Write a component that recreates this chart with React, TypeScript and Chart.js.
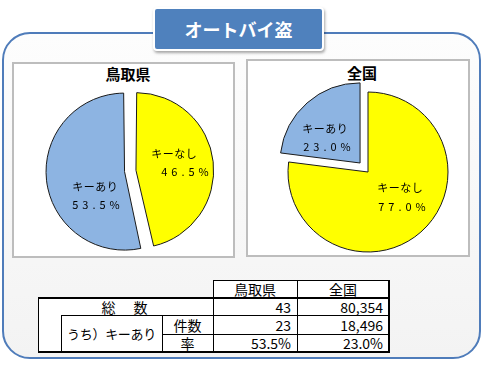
import React, { useEffect, useRef } from "react";
import { Chart, registerables } from "chart.js";

Chart.register(...registerables);

// ---- data ----
const categories = ["キーなし", "キーあり"];
const tottoriShares = [46.5, 53.5];
const nationalShares = [77.0, 23.0];
const pieTitles = ["鳥取県", "全国"];
const mainTitle = "オートバイ盗";
const tableColumns = ["鳥取県", "全国"];
const rowLabels = ["総　数", "うち）キーあり", "件数", "率"];
const totalCounts = ["43", "80,354"];
const keyCounts = ["23", "18,496"];
const keyRates = ["53.5%", "23.0%"];

const FONT = '"Noto Sans CJK JP", "Noto Sans", sans-serif';
const sliceColors = ["#ffff00", "#8db4e2"];

function drawSpaced(ctx: CanvasRenderingContext2D, text: string, cx: number, cy: number, ls: number) {
  (ctx as any).letterSpacing = "0px";
  const w0 = ctx.measureText(text).width;
  const total = w0 + ls * (text.length - 1);
  (ctx as any).letterSpacing = ls + "px";
  ctx.textAlign = "left";
  ctx.fillText(text, cx - total / 2, cy);
  (ctx as any).letterSpacing = "0px";
}

const sliceLabels = {
  id: "sliceLabels",
  afterDatasetsDraw(chart: any, _args: any, opts: any) {
    const ctx: CanvasRenderingContext2D = chart.ctx;
    const meta = chart.getDatasetMeta(0);
    const labels = chart.data.labels as string[];
    const data = chart.data.datasets[0].data as number[];
    meta.data.forEach((arc: any, i: number) => {
      const p = opts.positions[i];
      const cx = arc.x + p.dx;
      const cy = arc.y + p.dy;
      ctx.save();
      ctx.fillStyle = "#000";
      ctx.font = "11px " + FONT;
      ctx.textBaseline = "middle";
      drawSpaced(ctx, labels[i], cx, cy - 9.25, 0.5);
      drawSpaced(ctx, data[i].toFixed(1) + "%", cx + p.dx2, cy + 9.25, 4);
      ctx.restore();
    });
  },
};

function PieChart(props: {
  values: number[];
  radius: number;
  offsets: number[];
  positions: { dx: number; dy: number; dx2: number }[];
  left: number;
  top: number;
}) {
  const ref = useRef<HTMLCanvasElement>(null);
  const size = 200;
  useEffect(() => {
    const chart = new Chart(ref.current!, {
      type: "pie",
      data: {
        labels: categories,
        datasets: [
          {
            data: props.values,
            backgroundColor: sliceColors,
            borderColor: "#1a1a1a",
            borderWidth: 1,
            offset: props.offsets,
            radius: props.radius,
          } as any,
        ],
      },
      options: {
        animation: false,
        responsive: false,
        maintainAspectRatio: false,
        devicePixelRatio: 1,
        events: [],
        layout: { padding: 0 },
        plugins: {
          legend: { display: false },
          tooltip: { enabled: false },
          sliceLabels: { positions: props.positions },
        } as any,
      },
      plugins: [sliceLabels as any],
    });
    return () => chart.destroy();
  }, []);
  return (
    <canvas
      ref={ref}
      width={size}
      height={size}
      style={{ position: "absolute", left: props.left, top: props.top, width: size, height: size }}
    />
  );
}

function HLine({ x1, x2, y, w = 1 }: { x1: number; x2: number; y: number; w?: number }) {
  return <div style={{ position: "absolute", left: x1, top: y - w / 2, width: x2 - x1 + 1, height: w, background: "#000" }} />;
}
function VLine({ x, y1, y2, w = 1 }: { x: number; y1: number; y2: number; w?: number }) {
  return <div style={{ position: "absolute", left: x - w / 2, top: y1, width: w, height: y2 - y1 + 1, background: "#000" }} />;
}
function Cell(p: {
  x1: number; x2: number; y1: number; y2: number; text: string; align?: "center" | "right";
  size?: number; ls?: number;
}) {
  return (
    <div
      style={{
        position: "absolute",
        left: p.x1,
        top: p.y1,
        width: p.x2 - p.x1,
        height: p.y2 - p.y1,
        display: "flex",
        alignItems: "center",
        justifyContent: p.align === "right" ? "flex-end" : "center",
        paddingRight: p.align === "right" ? 6 : 0,
        boxSizing: "border-box",
        fontFamily: FONT,
        fontSize: p.size || 14,
        letterSpacing: p.ls || 0,
        color: "#000",
        lineHeight: 1,
        whiteSpace: "nowrap",
      }}
    >
      {p.text}
    </div>
  );
}

export default function App() {
  // table grid
  const X = [38, 61, 162, 213, 297, 389];
  const Y = [280, 298, 315, 334, 352];
  return (
    <div style={{ position: "absolute", left: 0, top: 0, width: 485, height: 365, background: "#fff", overflow: "hidden" }}>
      {/* outer frame */}
      <div
        style={{
          position: "absolute",
          left: 2,
          top: 32,
          width: 479,
          height: 327,
          boxSizing: "border-box",
          border: "2.5px solid #4f7cba",
          borderRadius: 28,
          background: "linear-gradient(#fdfdfd, #f3f3f3)",
        }}
      />
      {/* title box */}
      <div
        style={{
          position: "absolute",
          left: 153,
          top: 7,
          width: 171,
          height: 44,
          boxSizing: "border-box",
          background: "#4f81bd",
          border: "2px solid #fff",
          borderRadius: 4,
          boxShadow: "1px 2px 3px rgba(0,0,0,0.35)",
          color: "#fff",
          fontFamily: FONT,
          fontWeight: 700,
          fontSize: 18,
          display: "flex",
          alignItems: "center",
          justifyContent: "center",
          lineHeight: 1,
        }}
      >
        {mainTitle}
      </div>
      {/* panels */}
      <div style={{ position: "absolute", left: 12, top: 62, width: 223, height: 196, boxSizing: "border-box", background: "#fff", border: "2px solid #bdbdbd" }} />
      <div style={{ position: "absolute", left: 246, top: 59, width: 224, height: 198, boxSizing: "border-box", background: "#fff", border: "2px solid #bdbdbd" }} />
      <div style={{ position: "absolute", left: 68, top: 65, width: 120, height: 18, textAlign: "center", fontFamily: FONT, fontWeight: 700, fontSize: 15, lineHeight: "18px", color: "#000" }}>
        {pieTitles[0]}
      </div>
      <div style={{ position: "absolute", left: 302, top: 64, width: 120, height: 18, textAlign: "center", fontFamily: FONT, fontWeight: 700, fontSize: 15, lineHeight: "18px", color: "#000" }}>
        {pieTitles[1]}
      </div>
      <PieChart
        values={tottoriShares}
        radius={73}
        offsets={[24, 22]}
        positions={[
          { dx: 44, dy: -8, dx2: 11 },
          { dx: -35, dy: 25, dx2: 1 },
        ]}
        left={30}
        top={71}
      />
      <PieChart
        values={nationalShares}
        radius={80}
        offsets={[0, 48]}
        positions={[
          { dx: 32, dy: 25.5, dx2: 2 },
          { dx: -43, dy: -34, dx2: 2 },
        ]}
        left={268}
        top={72}
      />
      {/* table */}
      <div style={{ position: "absolute", left: X[3], top: Y[0], width: X[5] - X[3], height: Y[4] - Y[0], background: "#fff" }} />
      <div style={{ position: "absolute", left: X[0], top: Y[1], width: X[5] - X[0], height: Y[4] - Y[1], background: "#fff" }} />
      <Cell x1={X[3]} x2={X[4]} y1={Y[0]} y2={Y[1]} text={tableColumns[0]} />
      <Cell x1={X[4]} x2={X[5]} y1={Y[0]} y2={Y[1]} text={tableColumns[1]} />
      <Cell x1={X[0]} x2={X[3]} y1={Y[1]} y2={Y[2]} text={rowLabels[0]} ls={2} />
      <Cell x1={X[1]} x2={X[2]} y1={Y[2]} y2={Y[4]} text={rowLabels[1]} size={13} ls={-0.3} />
      <Cell x1={X[2]} x2={X[3]} y1={Y[2]} y2={Y[3]} text={rowLabels[2]} />
      <Cell x1={X[2]} x2={X[3]} y1={Y[3]} y2={Y[4]} text={rowLabels[3]} />
      {[totalCounts, keyCounts, keyRates].map((row, r) =>
        row.map((v, c) => (
          <Cell key={r + "-" + c} x1={X[3 + c]} x2={X[4 + c]} y1={Y[1 + r]} y2={Y[2 + r]} text={v} align="right" />
        ))
      )}
      <HLine x1={X[3]} x2={X[5]} y={Y[0]} />
      <HLine x1={X[0]} x2={X[5]} y={Y[1]} w={2} />
      <HLine x1={X[1]} x2={X[5]} y={Y[2]} />
      <HLine x1={X[2]} x2={X[5]} y={Y[3]} />
      <HLine x1={X[0]} x2={X[5]} y={Y[4]} w={2} />
      <VLine x={X[3]} y1={Y[0]} y2={Y[4]} />
      <VLine x={X[4]} y1={Y[0]} y2={Y[4]} />
      <VLine x={X[5]} y1={Y[0]} y2={Y[4]} w={2} />
      <VLine x={X[0]} y1={Y[1]} y2={Y[4]} />
      <VLine x={X[1]} y1={Y[2]} y2={Y[4]} />
      <VLine x={X[2]} y1={Y[2]} y2={Y[4]} />
    </div>
  );
}
